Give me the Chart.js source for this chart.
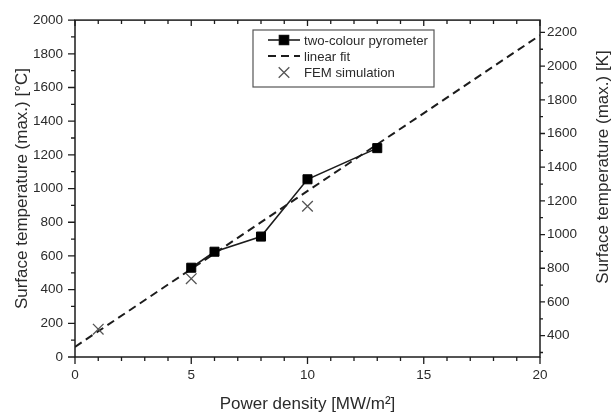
<!DOCTYPE html>
<html>
<head>
<meta charset="utf-8">
<script src="https://cdn.jsdelivr.net/npm/chart.js@4/dist/chart.umd.min.js"></script>
<style>
  html, body { margin: 0; padding: 0; background: #fff; }
  #wrap { width: 611px; height: 416px; }
</style>
</head>
<body>
<div id="wrap"><canvas id="tempChart" width="611" height="416"></canvas></div>
<script>
const powerPyro = [5, 6, 8, 10, 13];
const tempPyro = [530, 625, 715, 1055, 1240];
const powerFem = [1, 5, 10];
const tempFem = [165, 465, 895];
const powerFit = [0, 20];
const tempFit = [60, 1910];

// Axis ticks
const xTicks = [0, 5, 10, 15, 20];
const yTicksC = [0, 200, 400, 600, 800, 1000, 1200, 1400, 1600, 1800, 2000];
const yTicksK = [400, 600, 800, 1000, 1200, 1400, 1600, 1800, 2000, 2200];
const KELVIN = 273.15;
const rightTitle = 'Surface temperature (max.) [K]';

const FONT = '"Liberation Sans", Arial, sans-serif';
const INK = '#1c1c1c';
const TEXT = '#2b2b2b';

const toPoints = (xs, ys) => xs.map((x, i) => ({ x: x, y: ys[i] }));
const plainLabel = v => String(v);

// frame, minor/major tick marks, right title and the boxed legend
const frameTicks = {
    id: 'frameTicks',
    afterDatasetsDraw(chart) {
        const { ctx, chartArea: a, scales } = chart;
        const x = scales.x, y = scales.y, y2 = scales.y2;
        ctx.save();
        ctx.strokeStyle = INK;
        ctx.lineWidth = 1.5;
        ctx.strokeRect(a.left, a.top, a.right - a.left, a.bottom - a.top);

        ctx.lineWidth = 1.3;
        ctx.beginPath();
        for (let v = 0; v <= 20; v++) {
            const px = x.getPixelForValue(v);
            const major = v % 5 === 0;
            ctx.moveTo(px, a.bottom);
            ctx.lineTo(px, a.bottom + (major ? 7 : 4));
            ctx.moveTo(px, a.top);
            ctx.lineTo(px, a.top + (major ? 6 : 4));
        }
        for (let v = 0; v <= 2000; v += 100) {
            const py = y.getPixelForValue(v);
            ctx.moveTo(a.left, py);
            ctx.lineTo(a.left - (v % 200 === 0 ? 7 : 4), py);
        }
        for (let v = 300; v <= 2200; v += 100) {
            const py = y2.getPixelForValue(v);
            ctx.moveTo(a.right, py);
            ctx.lineTo(a.right + (v % 200 === 0 ? 5 : 3), py);
        }
        ctx.stroke();

        // right axis title reads bottom-to-top like the left one
        ctx.translate(603, 167);
        ctx.rotate(-Math.PI / 2);
        ctx.font = '17px ' + FONT;
        ctx.fillStyle = TEXT;
        ctx.textAlign = 'center';
        ctx.textBaseline = 'middle';
        ctx.fillText(rightTitle, 0, 0);
        ctx.restore();
    },
    afterDraw(chart) {
        const { ctx } = chart;
        const box = { left: 253, top: 30, right: 434, bottom: 87 };
        ctx.save();
        ctx.strokeStyle = '#555';
        ctx.lineWidth = 1.2;
        ctx.strokeRect(box.left, box.top, box.right - box.left, box.bottom - box.top);

        const sx = 268, ex = 300, cx = 284, tx = 304;
        const rows = [40, 56, 72.5];
        ctx.font = '13.2px ' + FONT;
        ctx.fillStyle = TEXT;
        ctx.textBaseline = 'middle';

        chart.data.datasets.forEach((ds, i) => {
            const ry = rows[i];
            ctx.strokeStyle = ds.borderColor;
            ctx.lineWidth = ds.borderWidth;
            if (ds.showLine) {
                ctx.setLineDash(ds.borderDash || []);
                ctx.beginPath();
                ctx.moveTo(sx, ry);
                ctx.lineTo(ex, ry);
                ctx.stroke();
                ctx.setLineDash([]);
            }
            if (ds.pointRadius > 0) {
                Chart.helpers.drawPoint(ctx, {
                    pointStyle: ds.pointStyle,
                    radius: ds.pointRadius,
                    borderWidth: ds.pointBorderWidth || ds.borderWidth,
                    rotation: 0
                }, cx, ry);
                if (ds.pointStyle === 'rect') {
                    ctx.fillStyle = ds.pointBackgroundColor;
                    ctx.fill();
                }
            }
            ctx.fillStyle = TEXT;
            ctx.fillText(ds.label, tx, ry + 1);
        });
        ctx.restore();
    }
};

const chart = new Chart(document.getElementById('tempChart'), {
    type: 'scatter',
    data: {
        datasets: [
            {
                label: 'two-colour pyrometer',
                data: toPoints(powerPyro, tempPyro),
                showLine: true,
                borderColor: INK,
                borderWidth: 1.6,
                pointStyle: 'rect',
                pointRadius: 6.4,
                pointBackgroundColor: '#000',
                pointBorderColor: '#000',
                pointBorderWidth: 1,
                order: 1
            },
            {
                label: 'linear fit',
                data: toPoints(powerFit, tempFit),
                showLine: true,
                borderColor: INK,
                borderWidth: 2,
                borderDash: [8, 5],
                pointRadius: 0,
                order: 2
            },
            {
                label: 'FEM simulation',
                data: toPoints(powerFem, tempFem),
                showLine: false,
                borderColor: '#555',
                borderWidth: 1.3,
                pointStyle: 'crossRot',
                pointRadius: 7.5,
                pointBorderColor: '#555',
                pointBorderWidth: 1.3,
                order: 0
            }
        ]
    },
    options: {
        responsive: false,
        animation: false,
        devicePixelRatio: 1,
        layout: { padding: { top: 15, left: 0, right: 0, bottom: 0 } },
        plugins: {
            legend: { display: false },
            tooltip: { enabled: false }
        },
        scales: {
            x: {
                type: 'linear',
                position: 'bottom',
                min: 0,
                max: 20,
                afterBuildTicks: s => { s.ticks = xTicks.map(v => ({ value: v })); },
                afterFit: s => { s.height = 59; },
                grid: { display: false, drawTicks: false },
                border: { display: false },
                ticks: { color: TEXT, font: { family: FONT, size: 13.5 }, padding: 10, maxRotation: 0, callback: plainLabel },
                title: {
                    display: true,
                    text: 'Power density [MW/m²]',
                    color: TEXT,
                    font: { family: FONT, size: 17 },
                    padding: { top: 1, bottom: 1 }
                }
            },
            y: {
                type: 'linear',
                position: 'left',
                min: 0,
                max: 2000,
                afterBuildTicks: s => { s.ticks = yTicksC.map(v => ({ value: v })); },
                afterFit: s => { s.width = 75; },
                grid: { display: false, drawTicks: false },
                border: { display: false },
                ticks: { color: TEXT, font: { family: FONT, size: 13.5 }, padding: 12, callback: plainLabel },
                title: {
                    display: true,
                    text: 'Surface temperature (max.) [°C]',
                    color: TEXT,
                    font: { family: FONT, size: 17 },
                    padding: { top: 12, bottom: 12 }
                }
            },
            y2: {
                type: 'linear',
                position: 'right',
                min: KELVIN,
                max: 2000 + KELVIN,
                afterBuildTicks: s => { s.ticks = yTicksK.map(v => ({ value: v })); },
                afterFit: s => { s.width = 71; },
                grid: { display: false, drawTicks: false },
                border: { display: false },
                ticks: { color: TEXT, font: { family: FONT, size: 13.5 }, padding: 7, callback: plainLabel },
                title: { display: false }
            }
        }
    },
    plugins: [frameTicks]
});
</script>
</body>
</html>
